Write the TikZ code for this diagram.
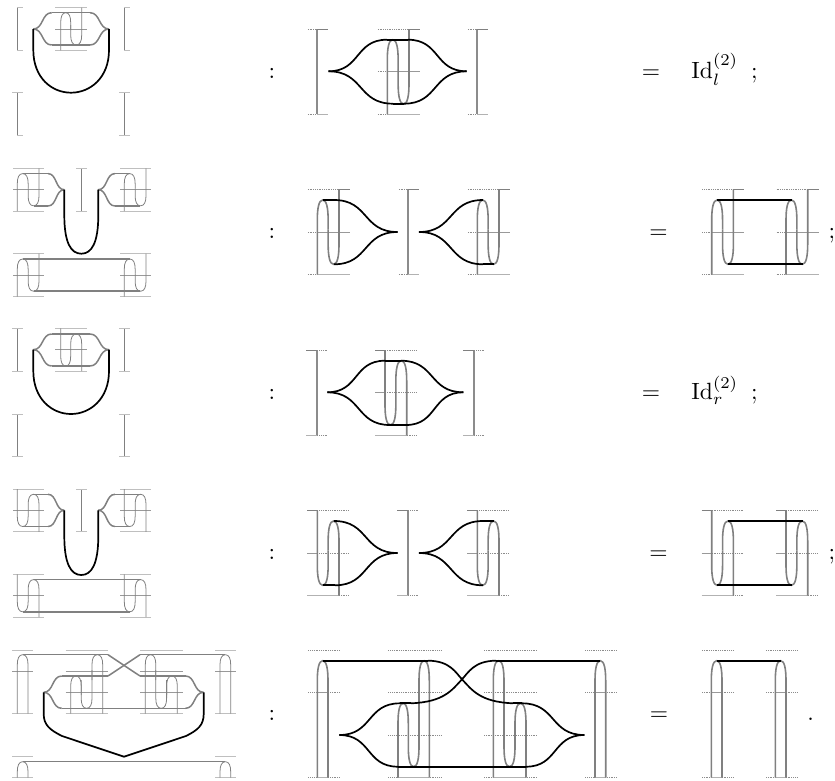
\documentclass[tikz,border=0pt]{standalone}
\tikzset{
  lb/.style={draw=black!50,line width=1.6pt},
  ls/.style={draw=black!50,line width=.8pt},
  bt/.style={draw=black!50,line width=1pt},
  bl/.style={draw=black!30,line width=1.3pt},
  bd/.style={draw=black!45,line width=.9pt,dash pattern=on .9pt off .9pt},
  st/.style={draw=black!25,line width=1pt},
  sm/.style={draw=black!40,line width=.7pt},
  bv/.style={draw=black!45,line width=2pt},
  gw/.style={draw=black!50,line width=1.5pt,line join=round},
  kw/.style={draw=black,line width=1.7pt,line join=round},
  txt/.style={scale=2.35,anchor=base,inner sep=0pt},
}
% arch: x0, width, start y, apex y, end y, curve height (signed)
\newcommand\archp[7][lb]{\draw[#1] (#2,#4) -- (#2,{#5+#7}) .. controls (#2,{#5+.4*#7}) and ({#2+.15*#3},#5) .. ({#2+.5*#3},#5) .. controls ({#2+.85*#3},#5) and ({#2+#3},{#5+.4*#7}) .. ({#2+#3},{#5+#7}) -- ({#2+#3},#6);}
% cusp curve: style, xc, yc, xf, yf
\newcommand\cuspc[5][kw]{\draw[#1] (#2,#3) .. controls ({#2+.55*(#4-#2)},#3) and ({#4-.55*(#4-#2)},#5) .. (#4,#5);}
\newcommand\hl[4][bt]{\draw[#1] (#2,#4) -- (#3,#4);}
% large bracket, dotted left: x,y0 / dotted right
\newcommand\bbrL[2]{\draw[bv] (#1,#2) -- (#1,{#2+85.4});
  \hl[bd]{#1-9.5}{#1}{#2}\hl{#1}{#1+11}{#2}
  \hl[bd]{#1-9.5}{#1}{#2+85.4}\hl[bl]{#1}{#1+11}{#2+85.4}}
\newcommand\bbrR[2]{\draw[bv] (#1,#2) -- (#1,{#2+85.4});
  \hl[bd]{#1}{#1+10}{#2}\hl{#1-11}{#1}{#2}
  \hl[bd]{#1}{#1+10}{#2+85.4}\hl[bl]{#1-11}{#1}{#2+85.4}}
% large group
\newcommand\grpL[2]{%
  \hl[bd]{#1-9.5}{#1+21.7}{#2}\hl{#1+21.7}{#1+32.7}{#2}
  \hl[bd]{#1-9.5}{#1}{#2+42.7}\hl[sm]{#1}{#1+32.7}{#2+42.7}
  \hl[bd]{#1-9.5}{#1}{#2+85.4}\hl[bl]{#1}{#1+32.7}{#2+85.4}
  \archp{#1}{10.85}{#2+85.4}{#2+10.7}{#2+40}{20}
  \archp{#1+10.85}{10.85}{#2+40}{#2+75}{#2}{-20}}
\newcommand\grpR[2]{%
  \hl{#1-10}{#1}{#2}\hl[bd]{#1}{#1+31.7}{#2}
  \hl[sm]{#1-10}{#1}{#2+42.7}\hl[bd]{#1}{#1+31.7}{#2+42.7}
  \hl[bl]{#1-10}{#1+21.7}{#2+85.4}\hl[bd]{#1+21.7}{#1+31.7}{#2+85.4}
  \archp{#1}{10.85}{#2}{#2+75}{#2+40}{-20}
  \archp{#1+10.85}{10.85}{#2+40}{#2+10.7}{#2+85.4}{20}}
% small group
\newcommand\sgrpL[2]{%
  \hl[st]{#1-4}{#1+26.7}{#2}\hl[sm]{#1-4}{#1+26.7}{#2+21.4}\hl[st]{#1-4}{#1+26.7}{#2+42.8}
  \archp[ls]{#1}{10.85}{#2+42.8}{#2+5.3}{#2+20}{10}
  \archp[ls]{#1+10.85}{10.85}{#2+20}{#2+37.5}{#2}{-10}}
\newcommand\sgrpR[2]{%
  \hl[st]{#1-4}{#1+26.7}{#2}\hl[sm]{#1-4}{#1+26.7}{#2+21.4}\hl[st]{#1-4}{#1+26.7}{#2+42.8}
  \archp[ls]{#1}{10.85}{#2}{#2+37.5}{#2+25}{-10}
  \archp[ls]{#1+10.85}{10.85}{#2+25}{#2+5.3}{#2+42.8}{10}}
% small bracket: x, y0, left extents for top and bottom tick
\newcommand\sbrk[4]{\draw[ls,line width=1pt] (#1,#2) -- (#1,{#2+42.8});
  \hl[st]{#1-#3}{#1+5.3}{#2}\hl[st]{#1-#4}{#1+5.3}{#2+42.8}}
\begin{document}
\begin{tikzpicture}[x=1pt,y=-1pt]
\useasboundingbox (0,0) rectangle (835,780);
% ---------- row 1 small
\sbrk{17.3}{7.5}{0}{0}\sbrk{124.4}{7.5}{0}{0}
\sbrk{17.3}{92.8}{5}{0}\sbrk{124.4}{92.8}{5}{5}
\hl[st]{55}{86.7}{7.5}\hl[sm]{55}{86.7}{29}\hl[st]{55}{86.7}{50.3}
\archp[ls]{60.7}{10}{50.3}{12.7}{30}{10}
\archp[ls]{70.7}{11}{25}{45}{7.5}{-10}
\cuspc[gw]{33.3}{29}{51.7}{12.7}\cuspc[gw]{33.3}{29}{51.7}{45}
\cuspc[gw]{109}{29}{90}{12.7}\cuspc[gw]{109}{29}{90}{45}
\hl[gw]{51.7}{90}{12.7}\hl[gw]{51.7}{90}{45}
\draw[kw] (33.3,29) -- (33.3,50) .. controls (33.3,78) and (52,92.7) .. (71,92.7) .. controls (90,92.7) and (109,78) .. (109,50) -- (109,29);
% ---------- row 1 large
\bbrL{317.3}{29}\bbrL{477.3}{29}
\grpL{387.3}{29}
\cuspc{328.5}{71.3}{387}{39.7}\cuspc{328.5}{71.3}{393}{103.7}
\cuspc{466.7}{71.3}{408}{39.7}\cuspc{466.7}{71.3}{404}{103.7}
\hl[kw]{387}{408}{39.7}\hl[kw]{393}{404}{103.7}
\node[txt] (c1) at (272,78) {$:$};
\node[txt] (e1) at (651,78) {$=$};
\node[txt,anchor=base west] (i1) at (691,78) {$\mathrm{Id}_l^{(2)}$\hspace{5.5pt}$;$};
% ---------- row 2 small
\sgrpL{17.3}{168.3}\sgrpL{124.3}{168.3}
\sgrpL{17.3}{253.7}\sgrpL{124.3}{253.7}
\sbrk{81.7}{168.3}{5.5}{5.5}
\hl[gw]{23.3}{48}{173.6}\hl[gw]{34}{48}{206}
\cuspc[gw]{64.3}{189.7}{48}{173.6}\cuspc[gw]{64.3}{189.7}{48}{206}
\hl[gw]{115}{129.6}{173.6}\hl[gw]{115}{140.3}{206}
\cuspc[gw]{98.3}{189.7}{115}{173.6}\cuspc[gw]{98.3}{189.7}{115}{206}
\hl[gw]{23.3}{129.6}{259}\hl[gw]{34}{140.3}{291.2}
\draw[kw] (64.3,189.7) -- (64.3,215) .. controls (64.3,243) and (71,253.7) .. (81.3,253.7) .. controls (91.6,253.7) and (98.3,243) .. (98.3,215) -- (98.3,189.7);
% ---------- row 2 large
\grpL{317.3}{189.3}\grpL{477.3}{189.3}
\bbrL{408.3}{189.3}
\hl[kw]{323}{334}{200}\cuspc{397.5}{232}{334}{200}\cuspc{397.5}{232}{334}{264.3}
\cuspc{419}{232}{483}{200}\cuspc{419}{232}{483}{264.3}\hl[kw]{483}{494}{264.3}
\node[txt] (c2) at (272,238.5) {$:$};
\node[txt] (e2) at (658.5,238.5) {$=$};
\grpL{711.7}{189.3}\grpL{786}{189.3}
\hl[kw]{717}{792}{200}\hl[kw]{728}{802.5}{264.3}
\node[txt] (s2) at (832,238.5) {$;$};
% ---------- row 3 small
\sbrk{17.3}{328.3}{5}{5}\sbrk{124.4}{328.3}{5}{5}
\sbrk{17.3}{414}{5}{5}\sbrk{124.4}{414}{5}{5}
\hl[st]{55}{86.7}{328.3}\hl[sm]{55}{86.7}{349.7}\hl[st]{55}{86.7}{371}
\archp[ls]{60.7}{10}{328.3}{366}{350}{-10}
\archp[ls]{70.7}{11}{350}{334}{371}{10}
\cuspc[gw]{33.3}{349.7}{51.7}{334}\cuspc[gw]{33.3}{349.7}{51.7}{366}
\cuspc[gw]{109}{349.7}{90}{334}\cuspc[gw]{109}{349.7}{90}{366}
\hl[gw]{51.7}{90}{334}\hl[gw]{51.7}{90}{366}
\draw[kw] (33.3,349.7) -- (33.3,371) .. controls (33.3,399) and (52,414) .. (71,414) .. controls (90,414) and (109,399) .. (109,371) -- (109,349.7);
% ---------- row 3 large
\bbrR{317.3}{350}\bbrR{474.3}{350}
\grpR{385}{350}
\cuspc{327.3}{392.3}{385}{360.7}\cuspc{327.3}{392.3}{390}{425}
\cuspc{463.3}{392.3}{401}{360.7}\cuspc{463.3}{392.3}{406}{425}
\hl[kw]{385}{401}{360.7}\hl[kw]{390}{406}{425}
\node[txt] (c3) at (272,399) {$:$};
\node[txt] (e3) at (651,399) {$=$};
\node[txt,anchor=base west] (i3) at (691,399) {$\mathrm{Id}_r^{(2)}$\hspace{5.5pt}$;$};
% ---------- row 4 small
\sgrpR{17.3}{489}\sgrpR{124.3}{489}
\sgrpR{17.3}{574.3}\sgrpR{124.3}{574.3}
\sbrk{81.7}{489}{5.5}{5.5}
\hl[gw]{33.6}{48}{494.3}\hl[gw]{23.3}{48}{526.5}
\cuspc[gw]{64.3}{510.3}{48}{494.3}\cuspc[gw]{64.3}{510.3}{48}{526.5}
\hl[gw]{115}{140.5}{494.3}\hl[gw]{115}{129.6}{526.5}
\cuspc[gw]{98.3}{510.3}{115}{494.3}\cuspc[gw]{98.3}{510.3}{115}{526.5}
\hl[gw]{33.6}{140.5}{579.6}\hl[gw]{23.3}{129.6}{611.8}
\draw[kw] (64.3,510.3) -- (64.3,536) .. controls (64.3,564) and (71,575) .. (81.3,575) .. controls (91.6,575) and (98.3,564) .. (98.3,536) -- (98.3,510.3);
% ---------- row 4 large
\grpR{317.3}{510.3}\grpR{477.3}{510.3}
\bbrR{408.3}{510.3}
\hl[kw]{323}{335}{585.3}\cuspc{397.5}{553}{335}{585.3}\cuspc{397.5}{553}{334}{521}
\cuspc{419}{553}{483}{521}\cuspc{419}{553}{483}{585.3}\hl[kw]{483}{494}{521}
\node[txt] (c4) at (272,559.5) {$:$};
\node[txt] (e4) at (658.5,559.5) {$=$};
\grpR{711.7}{510.3}\grpR{786}{510.3}
\hl[kw]{728}{802.5}{521}\hl[kw]{717}{792}{585.3}
\node[txt] (s4) at (832,559.5) {$;$};
% ---------- row 5 small
\foreach \xa/\xb in {12.3/33.3,65.7/107.7,140/182.7,215/236}{
  \hl[st]{\xa}{\xb}{650}\hl[sm]{\xa}{\xb}{671.3}\hl[st]{\xa}{\xb}{713.7}}
\foreach \xa/\xb in {65.7/107.7,140/182.7}{\hl[sm]{\xa}{\xb}{692.3}}
\hl[st]{12.3}{33.3}{756.7}\hl[st]{12.3}{33.3}{777.7}
\hl[st]{215}{236}{756.7}\hl[st]{215}{236}{777.7}
\archp[ls]{17.3}{10.7}{713.7}{654.7}{713.7}{10}
\archp[ls]{220}{10.7}{713.7}{654.7}{713.7}{10}
\archp[ls]{17.3}{10.7}{777.7}{761.7}{777.7}{10}
\archp[ls]{220}{10.7}{777.7}{761.7}{777.7}{10}
\archp[ls]{70.7}{10.5}{713.7}{676}{695}{10}
\archp[ls]{81.2}{10.8}{680}{708.3}{670}{-10}
\archp[ls]{92}{10.7}{680}{654.7}{713.7}{10}
\archp[ls]{145.3}{10.5}{713.7}{654.7}{680}{10}
\archp[ls]{155.8}{10.8}{670}{708.3}{680}{-10}
\archp[ls]{166.6}{10.7}{695}{676}{713.7}{10}
\hl[gw]{22.7}{108}{654.7}\hl[gw]{140}{225.3}{654.7}
\draw[gw] (108,654.7) -- (140,676);\draw[gw] (140,654.7) -- (108,676);
\hl[gw]{61.7}{108}{676}\hl[gw]{140}{185.5}{676}
\hl[gw]{61.7}{185.5}{708.3}
\cuspc[gw]{43.7}{692.3}{61.7}{676}\cuspc[gw]{43.7}{692.3}{61.7}{708.3}
\cuspc[gw]{203.5}{692.3}{185.5}{676}\cuspc[gw]{203.5}{692.3}{185.5}{708.3}
\hl[gw]{22.7}{225.3}{761.7}
\draw[kw] (43.7,692.3) -- (43.7,714) .. controls (43.7,725) and (50,730) .. (62,736) -- (124,756.7) -- (186,736) .. controls (198,730) and (203.7,725) .. (203.7,714) -- (203.7,692.3);
% ---------- row 5 large
\foreach \xa/\xb in {308.3/339,388.3/440.7,484/536.7,585.3/616.7,702/732.7,766/796.7}{
  \hl[bd]{\xa}{\xb}{650}\hl[bd]{\xa}{\xb}{692.3}\hl[bd]{\xa}{\xb}{777.7}}
\foreach \xa/\xb in {388.3/440.7,484/536.7}{\hl[bd]{\xa}{\xb}{735}}
\hl[bl]{398}{429.3}{777.7}\hl[bl]{493.3}{526}{777.7}
\foreach \x in {317.3,595,711.3,775.3}{\hl[sm]{\x}{\x+10.7}{692.3}\hl[bl]{\x}{\x+10.7}{777.7}
  \archp{\x}{10.7}{777.7}{660.7}{777.7}{20}}
\archp{398}{10.3}{777.7}{703.3}{740}{20}
\archp{408.3}{10.7}{740}{766.7}{710}{-20}
\archp{419}{10.3}{740}{660.7}{777.7}{20}
\archp{493.3}{10.7}{777.7}{660.7}{740}{20}
\archp{504}{11}{710}{766.7}{740}{-20}
\archp{515}{11}{740}{703.3}{777.7}{20}
\hl[kw]{322.7}{428}{660.7}\hl[kw]{496}{600.3}{660.7}
\draw[kw] (428,660.7) .. controls (450,660.7) and (456,673) .. (462,679.3) .. controls (472,690) and (480,702) .. (513,703.3);
\draw[kw] (496,660.7) .. controls (474,660.7) and (468,673) .. (462,679.3) .. controls (452,690) and (444,702) .. (411,703.3);
\hl[kw]{400}{411}{703.3}\hl[kw]{513}{522}{703.3}
\cuspc{339.3}{735}{400}{703.3}\cuspc{339.3}{735}{398}{766.7}
\cuspc{584.3}{735}{522}{703.3}\cuspc{584.3}{735}{526}{766.7}
\hl[kw]{398}{526}{766.7}
\hl[kw]{716.7}{780.7}{660.7}
\node[txt] (c5) at (272,720.5) {$:$};
\node[txt] (e5) at (659,720.5) {$=$};
\node[txt] (p5) at (810.7,720.5) {$.$};
\end{tikzpicture}
\end{document}
